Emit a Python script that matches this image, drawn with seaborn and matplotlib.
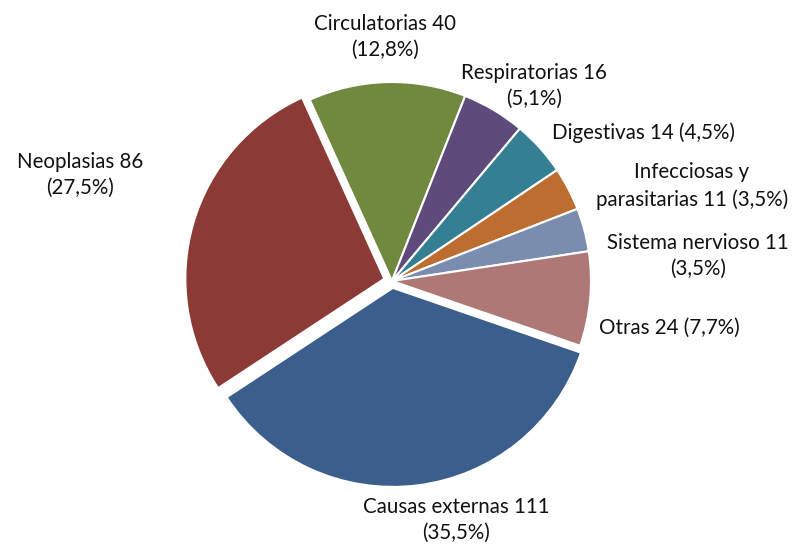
#Load required libraries
import matplotlib
matplotlib.use("Agg")
import matplotlib.pyplot as plt
import seaborn as sns

#Data
causas = ["Causas externas", "Neoplasias", "Circulatorias", "Respiratorias",
          "Digestivas", "Infecciosas y\nparasitarias", "Sistema nervioso", "Otras"]
defunciones = [111, 86, 40, 16, 14, 11, 11, 24]
porcentajes = ["35,5", "27,5", "12,8", "5,1", "4,5", "3,5", "3,5", "7,7"]

#Style
sns.set_theme(style="white")
plt.rcParams['font.family'] = ['Lato', 'DejaVu Sans']
colores = sns.color_palette(["#3B5E8C", "#8B3A36", "#71893F", "#5E4A7B",
                             "#347F93", "#BD6D2F", "#7B8DAE", "#AE7877"])
separacion = [0.035, 0.04, 0.0, 0.0, 0.0, 0.0, 0.0, 0.0]

#Figure in pixel-like units: 1 unit = radius of the pie
W, H = 798, 548
cx, cy, r = 392, 281, 199
fig = plt.figure(figsize=(W / 100, H / 100), dpi=100)
ax = fig.add_axes([0, 0, 1, 1])

wedges, _ = ax.pie(defunciones, colors=colores, startangle=-19, counterclock=False,
                   explode=separacion, radius=1,
                   wedgeprops=dict(edgecolor='white', linewidth=1.5))

ax.set_aspect('auto')
ax.set_xlim(-cx / r, (W - cx) / r)
ax.set_ylim(-(H - cy) / r, cy / r)
ax.axis('off')

#Label texts built from the data (line breaks as in the original)
textos = [f"{c} {v} ({p}%)" for c, v, p in zip(causas, defunciones, porcentajes)]
for i in [0, 1, 2, 3, 6]:
    textos[i] = f"{causas[i]} {defunciones[i]}\n({porcentajes[i]}%)"
#Pixel positions of each label block centre
pos_px = [(456, 520), (80, 175), (385, 37), (534, 86),
          (643, 133), (692, 186), (698, 256), (669, 328)]

for t, (px, py) in zip(textos, pos_px):
    ax.text((px - cx) / r, (cy - py) / r, t, ha='center', va='center',
            fontsize=14.8, color='#111111', linespacing=1.4)

plt.savefig('out.png', dpi=100)
